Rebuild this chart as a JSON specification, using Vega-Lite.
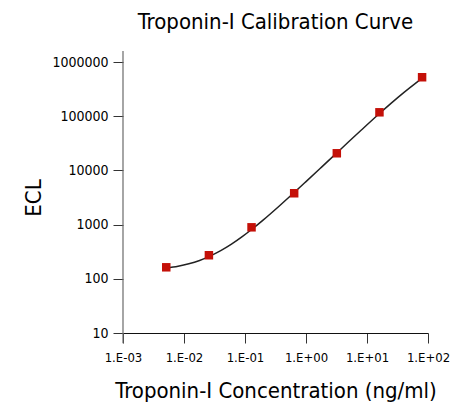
{
  "$schema": "https://vega.github.io/schema/vega-lite/v6.json",
  "width": 305,
  "height": 271,
  "autosize": "none",
  "padding": {"left": 123, "top": 62, "right": 43, "bottom": 78},
  "background": "white",
  "title": {
    "text": "Troponin-I Calibration Curve",
    "font": "DejaVu Sans Condensed",
    "fontSize": 22,
    "fontWeight": "normal",
    "color": "black",
    "anchor": "middle",
    "offset": 16
  },
  "config": {
    "view": {"stroke": null},
    "axis": {
      "grid": false,
      "domainColor": "#111111",
      "tickColor": "#333333",
      "tickSize": 10,
      "labelFont": "DejaVu Sans Condensed",
      "labelFontSize": 13,
      "labelColor": "black",
      "labelOverlap": false,
      "labelFlush": false,
      "titleFont": "DejaVu Sans Condensed",
      "titleFontWeight": "normal",
      "titleColor": "black",
      "titleFontSize": 22
    }
  },
  "datasets": {
    "points": [
      {"conc": 0.00512, "ecl": 163},
      {"conc": 0.0256, "ecl": 272},
      {"conc": 0.128, "ecl": 891},
      {"conc": 0.64, "ecl": 3785},
      {"conc": 3.2, "ecl": 20700},
      {"conc": 16, "ecl": 118000},
      {"conc": 80, "ecl": 523000}
    ],
    "curve": [
      {"conc": 0.00512, "ecl": 157},
      {"conc": 0.008, "ecl": 170},
      {"conc": 0.012, "ecl": 189},
      {"conc": 0.018, "ecl": 218},
      {"conc": 0.0256, "ecl": 256},
      {"conc": 0.04, "ecl": 330},
      {"conc": 0.06, "ecl": 435},
      {"conc": 0.09, "ecl": 598},
      {"conc": 0.128, "ecl": 811},
      {"conc": 0.2, "ecl": 1224},
      {"conc": 0.35, "ecl": 2117},
      {"conc": 0.64, "ecl": 3905},
      {"conc": 1.0, "ecl": 6210},
      {"conc": 1.8, "ecl": 11500},
      {"conc": 3.2, "ecl": 21070},
      {"conc": 5, "ecl": 33680},
      {"conc": 8, "ecl": 54980},
      {"conc": 16, "ecl": 112000},
      {"conc": 25, "ecl": 174400},
      {"conc": 40, "ecl": 272700},
      {"conc": 60, "ecl": 391800},
      {"conc": 80, "ecl": 497900}
    ],
    "yaxisline": [
      {"conc": 0.001, "lo": 6.5, "hi": 1600000}
    ]
  },
  "encoding": {
    "x": {
      "field": "conc",
      "type": "quantitative",
      "scale": {"type": "log", "domain": [0.001, 100], "nice": false},
      "axis": {
        "title": "Troponin-I Concentration (ng/ml)",
        "values": [0.001, 0.01, 0.1, 1, 10, 100],
        "labelExpr": "'1.E' + (datum.value < 1 ? '-' : '+') + '0' + abs(round(log(datum.value)/LN10))",
        "labelPadding": 8,
        "titlePadding": 16
      }
    }
  },
  "layer": [
    {
      "data": {"name": "yaxisline"},
      "mark": {"type": "rule", "color": "#6a6a6a", "strokeWidth": 1.2},
      "encoding": {
        "y": {"field": "lo", "type": "quantitative", "scale": {"type": "log", "domain": [10, 1000000], "nice": false}},
        "y2": {"field": "hi"}
      }
    },
    {
      "data": {"name": "curve"},
      "mark": {"type": "line", "color": "#222222", "strokeWidth": 1.5, "interpolate": "monotone"},
      "encoding": {
        "y": {"field": "ecl", "type": "quantitative", "scale": {"type": "log", "domain": [10, 1000000], "nice": false}}
      }
    },
    {
      "data": {"name": "points"},
      "mark": {"type": "square", "color": "#C41008", "opacity": 1, "filled": true, "size": 72},
      "encoding": {
        "y": {
          "field": "ecl",
          "type": "quantitative",
          "scale": {"type": "log", "domain": [10, 1000000], "nice": false},
          "axis": {
            "title": "ECL",
            "values": [10, 100, 1000, 10000, 100000, 1000000],
            "format": "d",
            "domain": false,
            "labelFontSize": 14,
            "labelPadding": 5,
            "titlePadding": 6
          }
        }
      }
    }
  ]
}
